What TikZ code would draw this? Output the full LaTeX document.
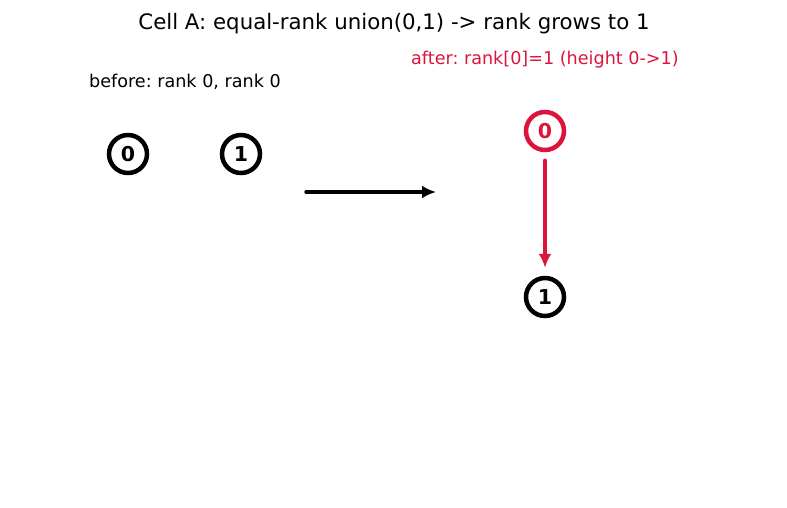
\documentclass[tikz,border=0pt]{standalone}
\usepackage{fontspec}
\setmainfont{DejaVu Sans}
\usetikzlibrary{arrows.meta}
\definecolor{crim}{HTML}{DC143C}
\frenchspacing
\tikzset{
  dsnode/.style={circle,draw,line width=4.5pt,minimum size=38pt,inner sep=0pt,fill=white,font=\fontsize{20.5}{20}\selectfont\bfseries},
  conn/.style={line width=3.4pt,line cap=round,-{Latex[length=14pt,width=13pt]}},
  lbl/.style={font=\fontsize{17.6}{20}\selectfont,anchor=base,inner sep=0pt}
}
\begin{document}
\begin{tikzpicture}[x=1pt,y=-1pt]
\useasboundingbox (0,0) rectangle (787,508);
\node[lbl,font=\fontsize{21.3}{24}\selectfont] (title) at (394,30) {Cell A: equal-rank union(0,1) -> rank grows to 1};
\node[lbl] (before) at (185,88) {before: rank 0, rank 0};
\node[lbl,text=crim] (after) at (545,65) {after: rank[0]=1 (height 0->1)};
\node[dsnode] (a0) at (128,154) {0};
\node[dsnode] (a1) at (241,154) {1};
\coordinate (s) at (306,192);
\coordinate (e) at (436,192);
\draw[conn] (s) -- (e);
\node[dsnode,draw=crim,text=crim] (b0) at (545,131) {0};
\node[dsnode] (b1) at (545,297) {1};
\draw[conn,crim,shorten <=8pt,shorten >=8pt] (b0) -- (b1);
\end{tikzpicture}
\end{document}
